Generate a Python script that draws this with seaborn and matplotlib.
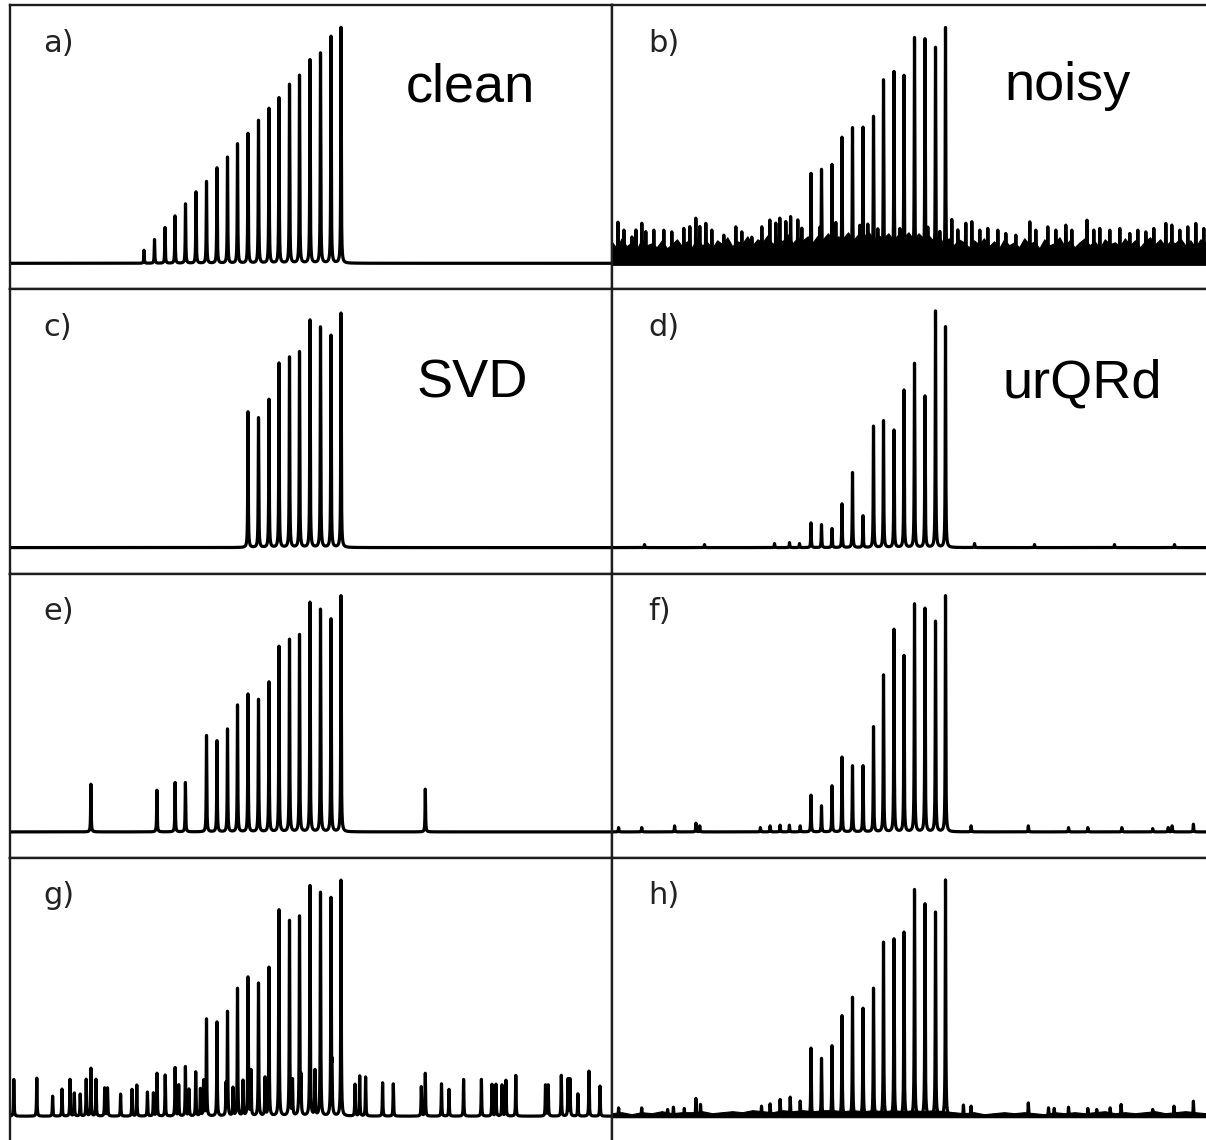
import numpy as np
import pandas as pd
import seaborn as sns
import matplotlib.pyplot as plt

sns.set_theme(style="white")
plt.rcParams['font.family'] = ['DejaVu Sans']

# ---------------- data (x: channel offset 0..602, y: intensity) ----------------
peak_pos = [134, 144.5, 155, 165, 175.5, 186, 196.5, 207, 217.5, 227.5,
            238, 248.5, 259, 269, 279.5, 289.5, 300, 310.5, 321, 331]

clean_h = [13, 23.7, 35.7, 47.3, 59.3, 71.3, 81.7, 95.3, 106, 119.3,
           129.7, 142.7, 154.7, 165.3, 178.7, 187.7, 203.3, 210, 226.7, 235.7]
# panels b, d, e, f, g, h show peaks 7..20 ; panel c shows peaks 11..20
noisy_h = [89.7, 92.7, 98.3, 125.7, 135.3, 135.3, 146.3, 183, 191.3, 187.3, 225.3, 223.7, 215.3, 235.3]
svd_h = [135.7, 129.7, 148, 184.3, 190.3, 195.7, 227.3, 220.3, 212, 234.3]
urqrd_h = [24.7, 23, 19, 43.7, 75, 31.7, 121.3, 126.7, 117.3, 157.3, 184, 151.3, 236.3, 220.7]
e_h = [96.3, 91, 102.7, 126.7, 137.7, 132.3, 149.7, 185.3, 192.3, 197, 229.3, 222.3, 212.7, 236]
f_h = [36.7, 26, 46, 74.7, 66, 66, 105, 156.7, 202.3, 176, 227.7, 223.3, 210.3, 236]
g_h = [96.7, 94, 103.4, 127.4, 138.4, 132.7, 148.4, 186, 195, 198.4, 230, 223.4, 215, 235.7]
h_h = [68, 57.7, 70.3, 100.3, 118.7, 107.7, 127.7, 173.7, 177, 183.7, 226.3, 212, 203.7, 236]

# noisy spectrum: top of the dense noise band (every ~5 channels) and noise spikes
noise_b_env = [22, 15, 25, 17, 21, 14, 24, 18, 20, 16, 23, 15, 19, 24, 17, 22, 16, 25, 18, 21,
               15, 23, 19, 26, 17, 22, 20, 27, 18, 24, 21, 28, 19, 25, 22, 29, 20, 26, 23, 27,
               21, 28, 24, 30, 22, 27, 25, 31, 23, 29, 26, 32, 24, 28, 25, 30, 23, 29, 26, 31,
               24, 30, 25, 28, 22, 27, 20, 25, 18, 24, 21, 16, 23, 19, 25, 17, 22, 15, 24, 18,
               21, 16, 25, 19, 22, 15, 24, 18, 20, 26, 17, 23, 16, 21, 25, 18, 22, 15, 24, 19,
               21, 17, 25, 18, 23, 16, 22, 26, 19, 24, 17, 22, 20, 25, 18, 23, 16, 24, 21, 19,
               22]
noise_b_pos = [3.4, 9.4, 17.4, 21.4, 27.3, 31.3, 39.3, 49.3, 57.3, 69.3, 75.3, 81.3, 85.3, 91.3,
               97.3, 109.3, 121.3, 127.3, 137.3, 147.3, 155.3, 161.3, 165.3, 171.3, 176.1, 183.3,
               187.3, 205.3, 221.3, 245.3, 253.3, 263.3, 285.3, 313.3, 325.3, 337.3, 343.3, 351.3,
               357.3, 365.3, 373.3, 383.3, 391.3, 401.3, 415.3, 421.3, 433.3, 441.3, 451.3, 457.3,
               472.5, 479.3, 485.3, 495.3, 505.3, 515.3, 523.3, 531.3, 539.3, 551.3, 557.3, 565.3,
               573.3, 581.3, 589.3]
noise_b_h = [41, 33, 26, 33, 39.7, 31.3, 33, 33, 31.3, 34.7, 36.3, 44.7, 36.3, 39.7,
             33, 28, 36.3, 31.3, 26, 36.3, 43, 39.7, 44.7, 41.3, 46.3, 43,
             34.7, 33, 39.7, 36.3, 38, 33, 33, 33, 30, 43, 33, 39.7,
             41.3, 33, 34.7, 33, 29.7, 28, 41.3, 33, 36.3, 33, 38, 33,
             43, 33, 34.7, 33, 34.7, 29.7, 33, 31.3, 34.7, 39.7, 38, 33,
             36.3, 39.7, 34.7]

# urQRd residual noise
noise_d_pos = [30, 90, 160, 175, 185, 360, 420, 500, 560]
noise_d_h = [3, 3, 4, 5, 4, 4, 3, 3, 3]

# artefacts of panel e
art_e_pos = [80.9, 146.9, 165.1, 175.4, 415.3]
art_e_h = [47.7, 41.7, 49.3, 49.3, 42.7]

# residual noise of panel f
noise_f_pos = [4.1, 27.2, 60.1, 81.4, 85.2, 145.9, 155.6, 165.6, 174.9, 185.7, 356.6, 413.8,
               454, 473.3, 507.3, 538.2, 553.7, 557.6, 578.9]
noise_f_h = [4.3, 4.3, 6, 8.7, 6, 4.3, 6, 6.7, 6.7, 6, 6, 6, 4.3, 4.3, 4.3, 3.3, 4.3, 6, 7.7]

# artefacts of panel g
art_g_pos = [3.8, 26.8, 42.6, 52, 60, 64.3, 70.2, 76.2, 80.9, 86, 94.7, 97.5, 110.6, 122,
             126.8, 137.4, 143.4, 147, 155.2, 165.1, 168.7, 175.4, 179, 185.7, 190.4, 193.6,
             216, 223, 233, 241, 255, 268.7, 282.5, 291, 305, 322,
             345, 349.7, 355.6, 372.6, 383.3, 411.3, 415.3, 431.5, 439, 453.6, 471.4, 482,
             486, 492, 495.9, 505.8, 535.5, 538.2, 551.3, 558, 560, 567.9, 579, 590]
art_g_h = [36.7, 38, 20, 27, 36.7, 23, 22, 36.7, 47.7, 36.7, 28, 28, 22, 26.7,
           31, 24, 23, 42.7, 41, 48.3, 31, 49.3, 26.7, 44, 27, 35,
           30, 28, 35, 45, 38, 40, 35, 35, 45, 40,
           31.7, 40, 39, 33.3, 32.3, 29.3, 42.7, 32.3, 26.7, 36.7, 36.7, 31.7,
           31.7, 31, 35.7, 40.7, 31, 31, 40.7, 36.7, 36.7, 22.3, 45, 30]

# residual noise of panel h
noise_h_pos = [4.1, 27.2, 53.1, 58.9, 69.8, 81.4, 86, 147, 155.6, 165.6, 175.7, 185.7, 348.9,
               356.6, 413.8, 434, 439.7, 454, 473.3, 482.2, 495.7, 506.6, 538.2, 559.5, 578.9]
noise_h_h = [8.3, 8.3, 6.7, 9, 7.7, 17.7, 11.7, 10, 12.3, 16.7, 19, 15, 11,
             10, 13.3, 8.3, 7.7, 9, 7.7, 6.7, 8.3, 11.7, 6.7, 10, 15]
# thin residual noise band of panel h (every ~10 channels)
noise_h_env = [3, 4, 2, 4, 3, 5, 3, 4, 4, 5, 3, 4, 5, 4, 6, 5, 4, 6, 5, 6,
               5, 6, 6, 5, 6, 5, 6, 5, 6, 5, 6, 5, 6, 5, 4, 3, 4, 2, 3, 4,
               3, 4, 3, 2, 4, 3, 4, 3, 4, 5, 3, 4, 3, 4, 5, 3, 4, 5, 4, 3, 4]

panel_tags = ['a)', 'b)', 'c)', 'd)', 'e)', 'f)', 'g)', 'h)']
method_names = {0: 'clean', 1: 'noisy', 2: 'SVD', 3: 'urQRd'}

# ---------------- helpers ----------------
GRID = np.arange(-6, 608, 0.05)


def lorentz_sum(pos, hts, width=0.3):
    p = np.asarray(pos, float)[:, None]
    h = np.asarray(hts, float)[:, None]
    return (h * width ** 2 / ((GRID[None, :] - p) ** 2 + width ** 2)).sum(axis=0)


tail = peak_pos[6:]
panels = [
    [(peak_pos, clean_h)],
    [(tail, noisy_h), (noise_b_pos, noise_b_h)],
    [(peak_pos[10:], svd_h)],
    [(tail, urqrd_h), (noise_d_pos, noise_d_h)],
    [(tail, e_h), (art_e_pos, art_e_h)],
    [(tail, f_h), (noise_f_pos, noise_f_h)],
    [(tail, g_h), (art_g_pos, art_g_h)],
    [(tail, h_h), (noise_h_pos, noise_h_h)],
]
bands = {1: (noise_b_env, -1.5), 7: (noise_h_env, -1.0)}

W, H = 1206.0, 1140.0
ROW_H = 284.3
row_tops = [5.0, 5.0 + ROW_H, 5.0 + 2 * ROW_H, 5.0 + 3 * ROW_H]

fig = plt.figure(figsize=(W / 100, H / 100), dpi=100)

label_pos = {  # (x fraction, y fraction) for big method labels
    0: (0.6570, 1 - 96 / ROW_H),
    1: (0.6515, 1 - 95 / ROW_H),
    2: (0.6745, 1 - 108.2 / ROW_H),
    3: (0.6485, 1 - 108.2 / ROW_H),
}

for i, comps in enumerate(panels):
    row, col = divmod(i, 2)
    left = 10.0 if col == 0 else 612.0
    top = row_tops[row]
    ax = fig.add_axes([left / W, 1 - (top + ROW_H) / H, 602 / W, ROW_H / H])

    y = np.zeros_like(GRID)
    for pos, hts in comps:
        y = y + lorentz_sum(pos, hts)

    if i in bands:
        env, low = bands[i]
        env_x = np.linspace(-3, 601, len(env))
        ax.fill_between(env_x, low, env, color='black', lw=0.8, zorder=1)

    df = pd.DataFrame({'x': GRID, 'y': y})
    sns.lineplot(data=df, x='x', y='y', ax=ax, color='black', lw=2.3,
                 estimator=None, sort=False, zorder=2)

    if col == 0:
        ax.set_xlim(0, 602)
    else:
        ax.set_xlim(-2.5, 599.5)
    ax.set_ylim(-26, ROW_H - 26)
    ax.set_xticks([])
    ax.set_yticks([])
    ax.set_xlabel('')
    ax.set_ylabel('')
    for s in ax.spines.values():
        s.set_color('#1e1e1e')
        s.set_linewidth(1.7)

    tx = 0.0548 if col == 0 else 0.0598
    ax.text(tx, 1 - 46.5 / ROW_H, panel_tags[i], transform=ax.transAxes,
            ha='left', va='baseline', fontsize=22, color='#222222',
            family=['DejaVu Sans'])
    if i in method_names:
        lx, ly = label_pos[i]
        ax.text(lx, ly, method_names[i], transform=ax.transAxes, ha='left',
                va='baseline', fontsize=39, color='black',
                family=['Liberation Sans', 'DejaVu Sans'])

fig.savefig('out.png', dpi=100)
